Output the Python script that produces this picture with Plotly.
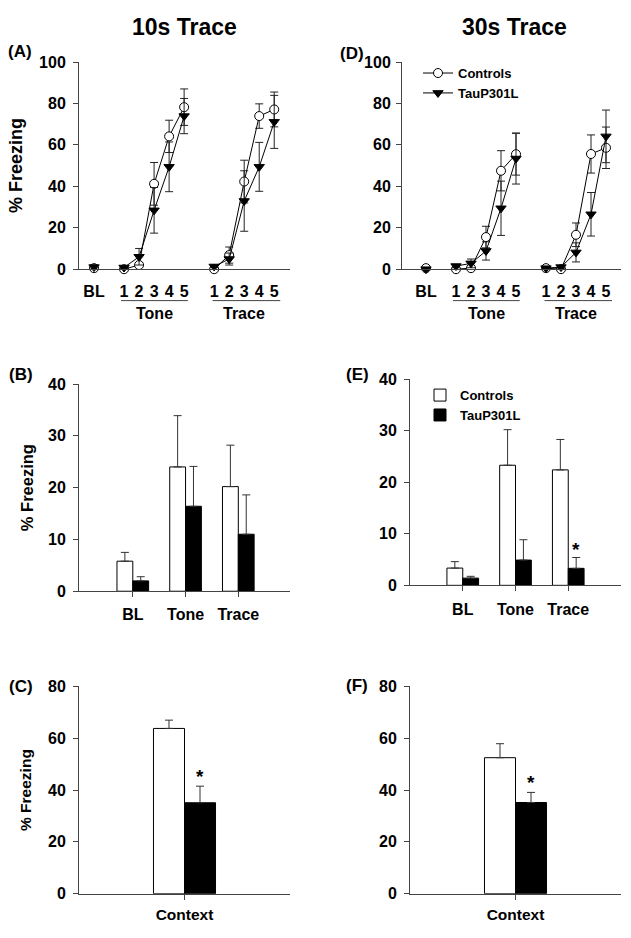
import plotly.graph_objects as go

W, H = 631, 938
FONT = "Liberation Sans, Arial, sans-serif"
AXC = "#444444"

# ---------------- data ----------------
# Panels A / D : freezing across BL, tone 1-5, trace 1-5
line_labels = ["BL", "1", "2", "3", "4", "5", "1", "2", "3", "4", "5"]
line_pos = [0, 2, 3, 4, 5, 6, 8, 9, 10, 11, 12]
line_groups = [[0], [1, 2, 3, 4, 5], [6, 7, 8, 9, 10]]

ctrl_10 = [0.5, 0.0, 2.0, 41.2, 64.1, 78.2, 0.0, 6.8, 42.3, 73.9, 77.1]
ctrl_10_sem = [0.5, 0.3, 1.0, 10.3, 7.8, 8.8, 0.3, 3.9, 10.3, 5.9, 8.4]
tau_10 = [1.0, 0.8, 6.0, 28.4, 49.4, 73.9, 1.3, 4.9, 32.9, 49.4, 71.1]
tau_10_sem = [1.0, 0.5, 4.0, 11.0, 12.0, 8.5, 0.5, 2.9, 14.6, 11.8, 12.8]

ctrl_30 = [0.5, 0.0, 0.5, 15.5, 47.5, 55.5, 0.5, 0.0, 16.6, 55.6, 58.6]
ctrl_30_sem = [0.5, 0.3, 0.5, 5.2, 9.7, 10.1, 0.3, 0.3, 5.7, 9.2, 10.0]
tau_30 = [0.0, 1.5, 2.8, 8.8, 29.4, 53.4, 0.5, 1.0, 8.1, 26.5, 64.1]
tau_30_sem = [0.0, 0.8, 2.1, 4.4, 13.1, 12.3, 0.3, 0.5, 4.6, 10.5, 12.7]

# Panels B / E : mean freezing per phase
bar_cats = ["BL", "Tone", "Trace"]
ctrl_b = [5.8, 24.0, 20.2]
ctrl_b_sem = [1.7, 9.9, 8.0]
tau_b = [2.0, 16.4, 11.0]
tau_b_sem = [0.8, 7.7, 7.6]

ctrl_e = [3.35, 23.3, 22.4]
ctrl_e_sem = [1.25, 6.9, 5.9]
tau_e = [1.4, 4.9, 3.3]
tau_e_sem = [0.35, 3.95, 2.1]

# Panels C / F : context freezing
ctx_cats = ["Context"]
ctrl_c = [63.8]
ctrl_c_sem = [3.2]
tau_c = [35.1]
tau_c_sem = [6.4]

ctrl_f = [52.5]
ctrl_f_sem = [5.4]
tau_f = [35.2]
tau_f_sem = [3.9]

group_names = ["Controls", "TauP301L"]


def fx(p):
    return p / W


def fy(p):
    return 1 - p / H


fig = go.Figure()


# ---------------- line panels ----------------
def add_lines(xa, ya, ctrl, ctrl_sem, tau, tau_sem, legend):
    for name, vals, sem, sym, fill in [
        (group_names[0], ctrl, ctrl_sem, "circle", "white"),
        (group_names[1], tau, tau_sem, "triangle-down", "black"),
    ]:
        first = True
        for g in line_groups:
            fig.add_trace(go.Scatter(
                x=[line_pos[i] for i in g], y=[vals[i] for i in g],
                mode="lines+markers", name=name,
                legendgroup=name, showlegend=(legend and first),
                line=dict(color="black", width=1),
                marker=dict(symbol=sym, size=9, color=fill,
                            line=dict(color="black", width=1)),
                error_y=dict(type="data", array=[sem[i] for i in g],
                             visible=True, thickness=1, width=4,
                             color="#222222"),
                cliponaxis=False, xaxis=xa, yaxis=ya,
            ))
            first = False


add_lines("x", "y", ctrl_10, ctrl_10_sem, tau_10, tau_10_sem, False)
add_lines("x4", "y4", ctrl_30, ctrl_30_sem, tau_30, tau_30_sem, True)


# ---------------- bar panels ----------------
def add_bars(xa, ya, cats, ctrl, ctrl_sem, tau, tau_sem, legend=False):
    for name, vals, sem, fill in [
        (group_names[0], ctrl, ctrl_sem, "white"),
        (group_names[1], tau, tau_sem, "black"),
    ]:
        fig.add_trace(go.Bar(
            x=cats, y=vals, name=name, showlegend=legend,
            legend="legend2",
            marker=dict(color=fill, line=dict(color="black", width=1)),
            error_y=dict(type="data", array=sem, arrayminus=[0] * len(sem),
                         symmetric=False, visible=True, thickness=1,
                         width=4, color="#333333"),
            xaxis=xa, yaxis=ya,
        ))


add_bars("x2", "y2", bar_cats, ctrl_b, ctrl_b_sem, tau_b, tau_b_sem)
add_bars("x5", "y5", bar_cats, ctrl_e, ctrl_e_sem, tau_e, tau_e_sem, True)
add_bars("x3", "y3", ctx_cats, ctrl_c, ctrl_c_sem, tau_c, tau_c_sem)
add_bars("x6", "y6", ctx_cats, ctrl_f, ctrl_f_sem, tau_f, tau_f_sem)

# ---------------- axes ----------------
base = dict(showline=True, linecolor=AXC, linewidth=1, showgrid=False,
            zeroline=False, ticks="outside", ticklen=5, tickcolor=AXC,
            tickwidth=1, tickfont=dict(family=FONT, size=16, weight="bold",
                                       color="black"))


def yax(dom, rng, dtick, anchor, title=None, tsize=16, standoff=12, tls=4):
    d = dict(base, domain=[fy(dom[1]), fy(dom[0])], range=rng, dtick=dtick,
             ticklabelstandoff=tls, anchor=anchor)
    if title:
        d["title"] = dict(text=title, standoff=standoff,
                          font=dict(family=FONT, size=tsize, weight="bold"))
    return d


def xline(dom, rng, anchor):
    return dict(base, domain=[fx(dom[0]), fx(dom[1])], range=rng,
                tickvals=line_pos, ticktext=line_labels,
                tickcolor="rgba(0,0,0,0)", ticklabelstandoff=3, anchor=anchor)


def xbar(dom, rng, anchor, size=16, tls=4):
    d = dict(base, domain=[fx(dom[0]), fx(dom[1])], range=rng, type="category",
             ticklabelstandoff=tls, anchor=anchor)
    d["tickfont"] = dict(family=FONT, size=size, weight="bold", color="black")
    return d


fig.update_layout(
    xaxis=xline((79, 290), [-1.0, 13.05], "y"),
    yaxis=yax((55, 266), [0, 100], 20, "x", "% Freezing", 18, 11),
    xaxis4=xline((402, 621), [-1.6, 13.0], "y4"),
    yaxis4=yax((55, 266), [0, 100], 20, "x4", tls=2),
    xaxis2=xbar((79, 290), [-1.02, 2.98], "y2"),
    yaxis2=yax((383, 594), [0, 40], 10, "x2", "% Freezing", 16.5, 10),
    xaxis5=xbar((410, 621), [-1.0, 3.0], "y5"),
    yaxis5=yax((378, 588), [0, 40], 10, "x5"),
    xaxis3=xbar((79, 290), [-1.02, 1.02], "y3", 15.5, 2),
    yaxis3=yax((691, 902), [0, 80], 20, "x3", "% Freezing", 15.5, 12),
    xaxis6=xbar((410, 621), [-1.02, 1.02], "y6", 15.5, 2),
    yaxis6=yax((691, 902), [0, 80], 20, "x6"),
)


# ---------------- annotations ----------------
def txt(text, x, y, xref="paper", yref="paper", size=16, yshift=0):
    return dict(text=text, x=x, y=y, xref=xref, yref=yref, showarrow=False,
                xanchor="center", yanchor="middle", yshift=yshift,
                font=dict(size=size, weight="bold", family=FONT, color="black"))


ann = [txt("10s Trace", fx(184.5), fy(19), size=23),
       txt("30s Trace", fx(514), fy(19), size=23)]
for lab, px, py in [("(A)", 20, 44), ("(B)", 21, 373), ("(C)", 21, 691),
                    ("(D)", 352, 46), ("(E)", 357, 373), ("(F)", 357, 690)]:
    ann.append(txt(lab, fx(px), fy(py), size=17))
for xr in ["x", "x4"]:
    for lab, cx in [("Tone", 4), ("Trace", 10)]:
        ann.append(txt(lab, cx, fy(311), xref=xr, size=16))
for xr, yr, xv, yv in [("x5", "y5", 2.15, 7.9), ("x3", "y3", 0.15, 47.0),
                       ("x6", "y6", 0.15, 44.7)]:
    ann.append(txt("*", xv, yv, xref=xr, yref=yr, size=19, yshift=-5))

shapes = []
for xr in ["x", "x4"]:
    for x0, x1 in [(1.8, 6.25), (7.9, 12.4)]:
        shapes.append(dict(type="line", xref=xr, yref="paper", x0=x0, x1=x1,
                           y0=fy(298), y1=fy(298),
                           line=dict(color=AXC, width=1)))

fig.update_layout(
    width=W, height=H, margin=dict(l=0, r=0, t=0, b=0),
    paper_bgcolor="white", plot_bgcolor="white",
    font=dict(family=FONT, color="black", weight="bold"),
    barmode="group", bargap=0.4, bargroupgap=0,
    annotations=ann, shapes=shapes,
    legend=dict(x=fx(418), y=fy(51), xanchor="left", yanchor="top",
                bgcolor="rgba(0,0,0,0)", tracegroupgap=0, itemwidth=30,
                font=dict(size=13, weight="bold", family=FONT)),
    legend2=dict(x=fx(420), y=fy(379), xanchor="left", yanchor="top",
                 bgcolor="rgba(0,0,0,0)", tracegroupgap=0, itemwidth=30,
                 font=dict(size=13, weight="bold", family=FONT)),
)

fig.write_html("out.html", config={"displayModeBar": False},
               post_script="document.body.style.margin='0px';")
